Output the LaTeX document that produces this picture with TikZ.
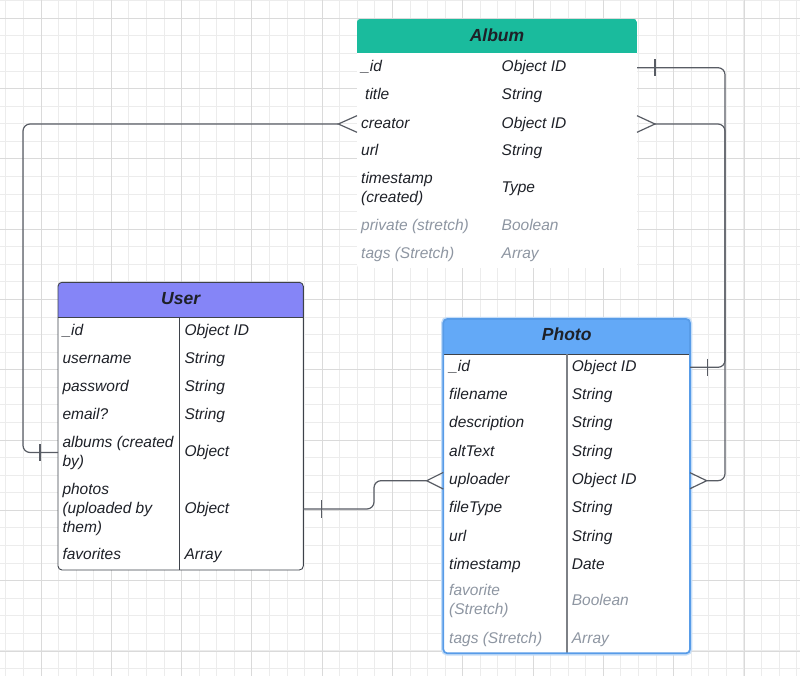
\documentclass[tikz,border=0pt]{standalone}
\usepackage{fontspec}
\setmainfont{Liberation Sans}

\definecolor{gridA}{RGB}{236,236,236}
\definecolor{gridB}{RGB}{218,218,218}
\definecolor{albumhdr}{RGB}{26,187,157}
\definecolor{userhdr}{RGB}{133,133,247}
\definecolor{photohdr}{RGB}{99,169,247}
\definecolor{edgedark}{RGB}{62,66,74}
\definecolor{photoedge}{RGB}{88,156,232}
\definecolor{photoglow}{RGB}{196,221,248}
\definecolor{photodiv}{RGB}{125,128,134}
\definecolor{connc}{RGB}{88,92,100}
\definecolor{txtmain}{RGB}{30,33,40}
\definecolor{txtsoft}{RGB}{142,150,162}

% one table row: name, centre y, height, field, type, extra text style
\newcommand\fieldrow[6]{%
  \node[rowslot, minimum width={\tabR-\tabL}, minimum height=#3] (#1) at ({(\tabL+\tabR)/2},#2) {};
  \node[celltext,#6] (#1-f) at (\tabFx,{#2+0.2}) {\vphantom{(}#4};
  \node[celltext,#6] (#1-t) at (\tabTx,{#2+0.2}) {\vphantom{(}#5};}

\begin{document}
\begin{tikzpicture}[x=1pt,y=-1pt,
  gridminor/.style={draw=gridA, line width=1pt},
  gridmajor/.style={draw=gridB, line width=1.3pt},
  rowslot/.style={draw=none, inner sep=0pt, outer sep=0pt},
  celltext/.style={anchor=west, align=left, inner sep=0pt, text=txtmain,
    font=\fontsize{15.5}{19}\selectfont\itshape},
  soft/.style={text=txtsoft},
  hdrtext/.style={inner sep=0pt, text=txtmain,
    font=\fontsize{17.5}{21}\selectfont\bfseries\itshape},
  conn/.style={draw=connc, line width=1.2pt, rounded corners=7pt},
  endtick/.style={draw=connc, line width=1.2pt, sharp corners},
]
\useasboundingbox (0,0) rectangle (800,676);

% background grid, lines snapped to whole units
\begin{scope}
  \clip (0,0) rectangle (800,676);
  \fill[white] (0,0) rectangle (800,676);
  \foreach \k in {-2,...,43} \draw[gridminor] ({floor(41+17.575*\k)+0.5},0) -- ({floor(41+17.575*\k)+0.5},676);
  \foreach \k in {-1,...,38} \draw[gridminor] (0,{floor(18.3+17.575*\k)+0.5}) -- (800,{floor(18.3+17.575*\k)+0.5});
  \foreach \k in {-1,...,11} \draw[gridmajor] ({floor(41+70.3*\k)+0.5},0) -- ({floor(41+70.3*\k)+0.5},676);
  \foreach \k in {0,...,9} \draw[gridmajor] (0,{floor(18.3+70.3*\k)+0.5}) -- (800,{floor(18.3+70.3*\k)+0.5});
\end{scope}

% ---------- Album ----------
\begin{scope}
  \clip[rounded corners=3pt] (357,19) rectangle (637,268);
  \fill[albumhdr] (357,19) rectangle (637,53.3);
  \fill[white] (357,53.3) rectangle (637,268);
\end{scope}
\node[hdrtext] (album) at (497,35.5) {Album};
\def\tabL{357}\def\tabR{637}\def\tabFx{361}\def\tabTx{501.5}
\fieldrow{a-id}{67.7}{28}{\_id}{Object ID}{}
\fieldrow{a-title}{95.3}{28}{\hspace*{4pt}title}{String}{}
\fieldrow{a-creator}{124}{28}{creator}{Object ID}{}
\fieldrow{a-url}{151.3}{28}{url}{String}{}
\fieldrow{a-ts}{188.7}{46}{timestamp\\(created)}{Type}{}
\fieldrow{a-private}{226.3}{28}{private (stretch)}{Boolean}{soft}
\fieldrow{a-tags}{254.6}{28}{tags (Stretch)}{Array}{soft}

% ---------- User ----------
\begin{scope}
  \clip[rounded corners=4pt] (58,282.3) rectangle (303.3,570);
  \fill[userhdr] (58,282.3) rectangle (303.3,317.3);
  \fill[white] (58,317.3) rectangle (303.3,570);
\end{scope}
\draw[edgedark, line width=0.9pt] (58,317.3) -- (303.3,317.3);
\draw[edgedark, line width=0.9pt] (179.3,317.3) -- (179.3,570);
\draw[edgedark, line width=0.9pt, rounded corners=4pt] (58,282.3) rectangle (303.3,570);
\node[hdrtext] (user) at (180.7,298.6) {User};
\def\tabL{58}\def\tabR{303.3}\def\tabFx{62.3}\def\tabTx{184.3}
\fieldrow{u-id}{331.2}{28}{\_id}{Object ID}{}
\fieldrow{u-username}{359.5}{28}{username}{String}{}
\fieldrow{u-password}{386.9}{28}{password}{String}{}
\fieldrow{u-email}{415.2}{28}{email?}{String}{}
\fieldrow{u-albums}{452.5}{40}{albums (created\\by)}{Object}{}
\fieldrow{u-photos}{509}{56}{photos\\(uploaded by\\them)}{Object}{}
\fieldrow{u-favorites}{555.5}{28}{favorites}{Array}{}

% ---------- Photo ----------
\draw[photoglow, line width=4.5pt, rounded corners=4pt] (443.3,319) rectangle (690,653.3);
\begin{scope}
  \clip[rounded corners=4pt] (443.3,319) rectangle (690,653.3);
  \fill[photohdr] (443.3,319) rectangle (690,354);
  \fill[white] (443.3,354) rectangle (690,653.3);
\end{scope}
\draw[edgedark, line width=0.9pt] (443.3,354) -- (690,354);
\draw[photodiv, line width=1.3pt] (567,354) -- (567,653.3);
\draw[photoedge, line width=1.7pt, rounded corners=4pt] (443.3,319) rectangle (690,653.3);
\node[hdrtext] (photo) at (566.7,334.6) {Photo};
\def\tabL{443.3}\def\tabR{690}\def\tabFx{449}\def\tabTx{571.7}
\fieldrow{p-id}{367.3}{28}{\_id}{Object ID}{}
\fieldrow{p-filename}{395.5}{28}{filename}{String}{}
\fieldrow{p-description}{423.5}{28}{description}{String}{}
\fieldrow{p-alttext}{452.2}{28}{altText}{String}{}
\fieldrow{p-uploader}{480.7}{28}{uploader}{Object ID}{}
\fieldrow{p-filetype}{508.5}{28}{fileType}{String}{}
\fieldrow{p-url}{536.9}{28}{url}{String}{}
\fieldrow{p-timestamp}{565.2}{28}{timestamp}{Date}{}
\fieldrow{p-favorite}{601.2}{40}{favorite\\(Stretch)}{Boolean}{soft}
\fieldrow{p-tags}{639.5}{28}{tags (Stretch)}{Array}{soft}

% ---------- relationships ----------
\coordinate (rbus) at (725,0);
\coordinate (lbus) at (23,0);
\coordinate (sbend) at (374,0);

% Album._id  1 -- 1  Photo._id
\draw[conn] (a-id.east) -- (a-id.east -| rbus) -- (p-id.east -| rbus) -- (p-id.east);
\draw[endtick] ([xshift=18pt,yshift=8.5pt]a-id.east) -- ([xshift=18pt,yshift=-8.5pt]a-id.east);
\draw[endtick] ([xshift=17.3pt,yshift=8.5pt]p-id.east) -- ([xshift=17.3pt,yshift=-8.5pt]p-id.east);

% Album.creator  many -- many  Photo.uploader
\draw[conn] ([xshift=18pt]a-creator.east) -- (a-creator.east -| rbus) -- (p-uploader.east -| rbus) -- ([xshift=16.7pt]p-uploader.east);
\draw[endtick] ([yshift=8.3pt]a-creator.east) -- ([xshift=18pt]a-creator.east) -- ([yshift=-8.3pt]a-creator.east);
\draw[endtick] ([yshift=8pt]p-uploader.east) -- ([xshift=16.7pt]p-uploader.east) -- ([yshift=-8pt]p-uploader.east);

% Album.creator  many -- 1  User.albums
\draw[conn] ([xshift=-18.7pt]a-creator.west) -- (a-creator.west -| lbus) -- (u-albums.west -| lbus) -- (u-albums.west);
\draw[endtick] ([yshift=8.3pt]a-creator.west) -- ([xshift=-18.7pt]a-creator.west) -- ([yshift=-8.3pt]a-creator.west);
\draw[endtick] ([xshift=-18pt,yshift=8.5pt]u-albums.west) -- ([xshift=-18pt,yshift=-8.5pt]u-albums.west);

% User.photos  1 -- many  Photo.uploader
\draw[conn] (u-photos.east) -- (u-photos.east -| sbend) -- (p-uploader.west -| sbend) -- ([xshift=-16.6pt]p-uploader.west);
\draw[endtick] ([yshift=8.3pt]p-uploader.west) -- ([xshift=-16.6pt]p-uploader.west) -- ([yshift=-8.3pt]p-uploader.west);
\draw[endtick] ([xshift=18pt,yshift=9pt]u-photos.east) -- ([xshift=18pt,yshift=-9pt]u-photos.east);

\end{tikzpicture}
\end{document}
